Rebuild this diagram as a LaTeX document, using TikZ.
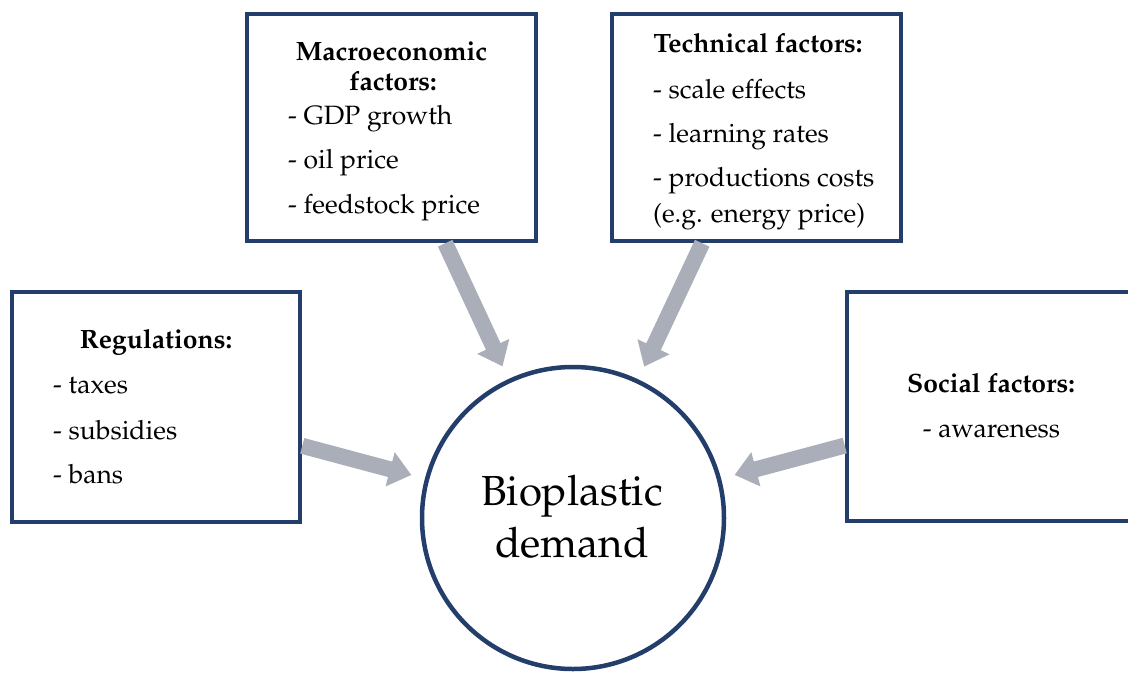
\documentclass[tikz,border=0pt]{standalone}
\usepackage[T1]{fontenc}
\usepackage{mathpazo}
\usetikzlibrary{arrows.meta}
\definecolor{navy}{RGB}{36,62,108}
\definecolor{arrgray}{RGB}{170,174,185}
\tikzset{
  box/.style={draw=navy, line width=4.5pt, fill=white, rectangle, minimum width=289pt, minimum height=228pt, inner sep=0pt},
  hub/.style={draw=navy, line width=4.5pt, fill=white, circle, minimum size=302pt, inner sep=0pt},
  txt/.style={inner sep=0pt, font=\fontsize{26.5}{30}\selectfont},
  head/.style={txt, font=\fontsize{26.5}{30}\selectfont\bfseries, anchor=base},
  item/.style={txt, anchor=base west},
  big/.style={inner sep=0pt, font=\fontsize{42}{52}\selectfont, anchor=base},
  feed/.style={draw=arrgray, line width=16pt, -{Triangle[length=22pt,width=34pt]}, shorten >=14pt}
}
\begin{document}
\begin{tikzpicture}[x=1pt,y=-1pt]
\useasboundingbox (0,0) rectangle (1128,673);
% boxes
\node[box, minimum height=227pt] (mac) at (391.5,127.5) {};
\node[box, minimum height=227pt] (tec) at (756.5,127.5) {};
\node[box, minimum width=288pt, minimum height=230pt] (reg) at (156,407) {};
\node[box, minimum height=229pt] (soc) at (991.5,406.5) {};
\node[hub] (bio) at (573,518) {};
% arrows
\draw[feed] (mac) -- (bio);
\draw[feed] (tec) -- (bio);
\draw[feed] (reg) -- (bio);
\draw[feed] (soc) -- (bio);
% macro text
\node[head] (m1) at (391.5,60) {Macroeconomic};
\node[head] (m2) at (393,90) {factors:};
\node[item] (m3) at (288,124) {- GDP growth};
\node[item] (m4) at (288,168) {- oil price};
\node[item] (m5) at (288,213) {- feedstock price};
% technical text
\node[head] (t1) at (758,52) {Technical factors:};
\node[item] (t2) at (653,98) {- scale effects};
\node[item] (t3) at (653,142) {- learning rates};
\node[item] (t4) at (653,186) {- productions costs};
\node[item] (t5) at (653,222) {(e.g. energy price)};
% regulations text
\node[head] (r1) at (156,348) {Regulations:};
\node[item] (r2) at (53,393) {- taxes};
\node[item] (r3) at (53,439) {- subsidies};
\node[item] (r4) at (53,483) {- bans};
% social text
\node[head] (s1) at (991,392) {Social factors:};
\node[txt, anchor=base] (s2) at (991.5,437) {- awareness};
% hub text
\node[big] (b1) at (572,505) {Bioplastic};
\node[big] (b2) at (572,557) {demand};
\end{tikzpicture}
\end{document}
